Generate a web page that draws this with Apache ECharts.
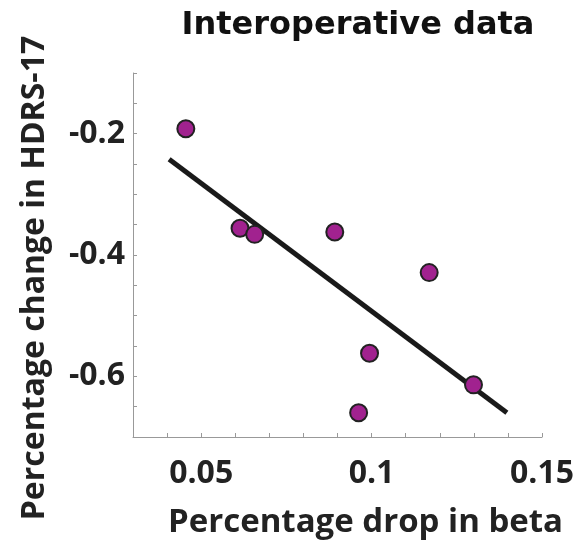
<!DOCTYPE html>
<html>
<head>
<meta charset="utf-8">
<script src="https://cdn.jsdelivr.net/npm/echarts@6/dist/echarts.min.js"></script>
<style>
  html, body { margin: 0; padding: 0; background: #fff; }
  #chart { width: 582px; height: 544px; }
</style>
</head>
<body>
<div id="chart"></div>
<script>
// Intraoperative beta drop vs. change in HDRS-17
const betaDrop   = [0.0455, 0.0614, 0.0657, 0.0892, 0.1169, 0.0994, 0.0962, 0.1299];
const hdrsChange = [-0.192, -0.356, -0.366, -0.362, -0.429, -0.562, -0.660, -0.614];

// least-squares fit line endpoints
const fitX = [0.0406, 0.1397];
const fitY = [-0.242, -0.660];

const xTickLabels = [0.05, 0.1, 0.15];
const yTickLabels = [-0.2, -0.4, -0.6];

const points = betaDrop.map((x, i) => [x, hdrsChange[i]]);
const fitLine = fitX.map((x, i) => [x, fitY[i]]);

const near = (v, list) => list.some(t => Math.abs(v - t) < 1e-6);

const axisFont = '"Open Sans", "Noto Sans", sans-serif';
const textColor = '#222';

const chart = echarts.init(document.getElementById('chart'), null, { renderer: 'canvas' });
chart.setOption({
  animation: false,
  backgroundColor: '#fff',
  title: {
    text: 'Interoperative data',
    left: 353,
    textAlign: 'center',
    top: 5,
    textStyle: { fontFamily: '"DejaVu Sans", Verdana, sans-serif', fontWeight: 'bold', fontSize: 32, color: '#111' }
  },
  grid: { left: 133, right: 40, top: 73, bottom: 103, containLabel: false },
  xAxis: {
    type: 'value',
    min: 0.03, max: 0.15, interval: 0.01,
    name: 'Percentage drop in beta',
    nameLocation: 'middle',
    nameGap: 69,
    nameTextStyle: { fontFamily: axisFont, fontWeight: 'bold', fontSize: 33, color: textColor, padding: [0, 0, 0, 56] },
    axisLine: { show: true, lineStyle: { color: '#999', width: 1 } },
    axisTick: { show: true, inside: true, length: 4, lineStyle: { color: '#999' } },
    splitLine: { show: false },
    axisLabel: {
      margin: 21,
      fontFamily: axisFont, fontWeight: 'bold', fontSize: 32, color: textColor,
      showMinLabel: true, showMaxLabel: true,
      formatter: v => near(v, xTickLabels) ? String(+v.toFixed(2)) : ''
    }
  },
  yAxis: {
    type: 'value',
    min: -0.7, max: -0.1, interval: 0.05,
    name: 'Percentage change in HDRS-17',
    nameLocation: 'middle',
    nameGap: 82,
    nameTextStyle: { fontFamily: axisFont, fontWeight: 'bold', fontSize: 32, color: textColor, padding: [0, 46, 0, 0] },
    axisLine: { show: true, lineStyle: { color: '#999', width: 1 } },
    axisTick: { show: true, inside: true, length: 4, lineStyle: { color: '#999' } },
    splitLine: { show: false },
    axisLabel: {
      margin: 8,
      fontFamily: axisFont, fontWeight: 'bold', fontSize: 32, color: textColor,
      formatter: v => near(v, yTickLabels) ? String(+v.toFixed(2)) : ''
    }
  },
  series: [
    {
      type: 'line',
      data: fitLine,
      symbol: 'none',
      lineStyle: { color: '#1a1a1a', width: 5 },
      z: 2
    },
    {
      type: 'scatter',
      data: points,
      symbol: 'circle',
      symbolSize: 17,
      itemStyle: { color: '#a1228f', borderColor: '#222', borderWidth: 2, opacity: 1 },
      z: 3
    }
  ]
});
</script>
</body>
</html>
